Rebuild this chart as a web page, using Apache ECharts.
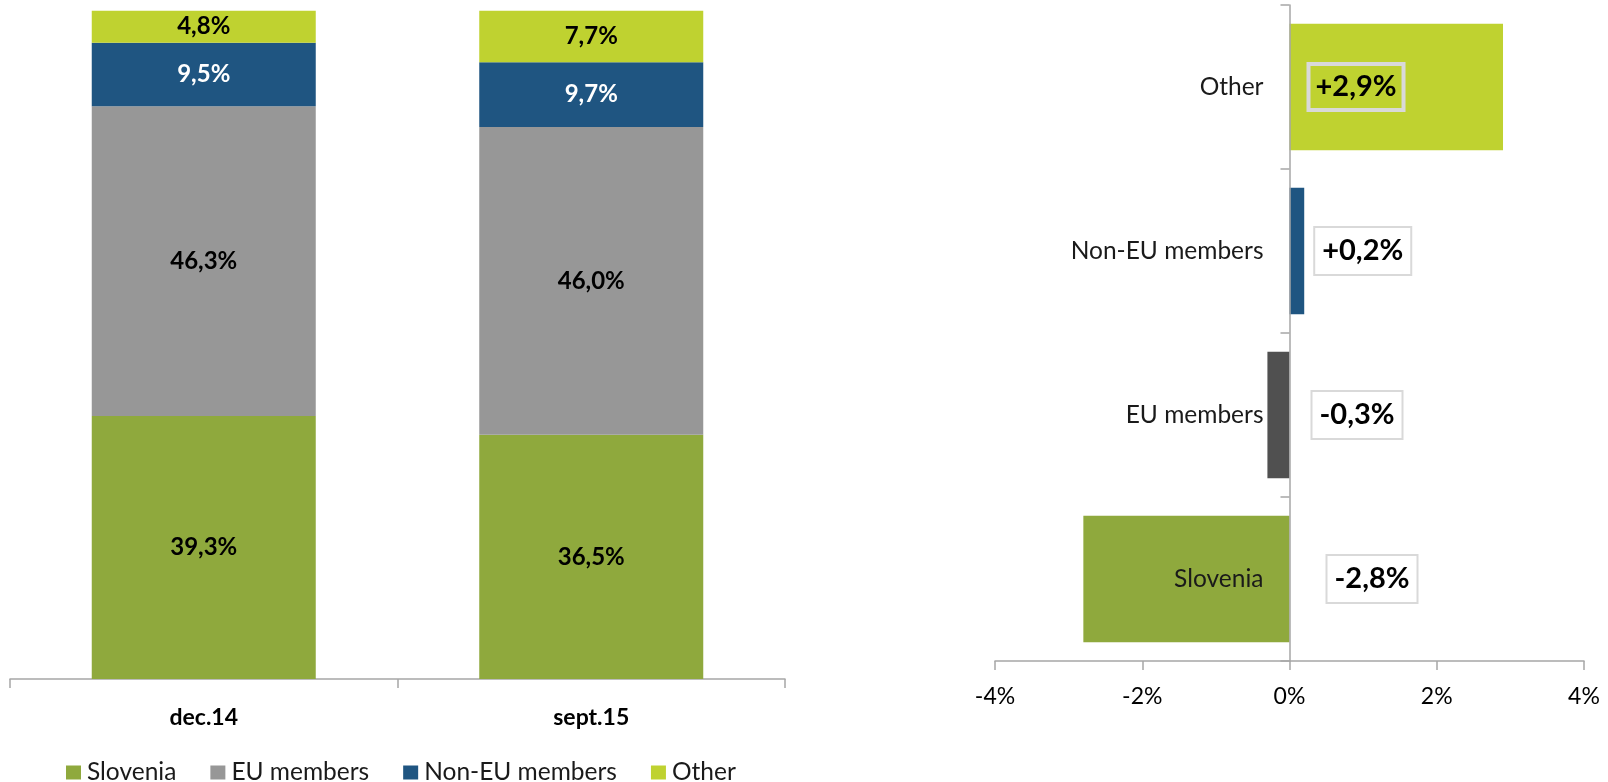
<!DOCTYPE html>
<html>
<head>
<meta charset="utf-8">
<script src="https://cdn.jsdelivr.net/npm/echarts@6/dist/echarts.min.js"></script>
<style>
html,body{margin:0;padding:0;background:#fff;}
#main{width:1608px;height:782px;}
</style>
</head>
<body>
<div id="main"></div>
<script>
// ---- data ----
const periods = ['dec.14', 'sept.15'];
const slovenia = [39.3, 36.5];
const euMembers = [46.3, 46.0];
const nonEuMembers = [9.5, 9.7];
const other = [4.8, 7.7];

const changeCategories = ['Slovenia', 'EU members', 'Non-EU members', 'Other'];
const changeValues = [-2.8, -0.3, 0.2, 2.9];
const changeTicks = [-4, -2, 0, 2, 4];

// ---- styles ----
const C_SLO = '#8FA93D', C_EU = '#979797', C_NONEU = '#1F5581', C_OTHER = '#BFD230', C_EU_CHG = '#505050';
const FONT = 'Lato, "Open Sans", sans-serif';
const changeColors = [C_SLO, C_EU_CHG, C_NONEU, C_OTHER];
const changeLabelPos = [
  {position: 'right', distance: 38, bg: '#fff'},
  {position: 'right', distance: 23, bg: '#fff'},
  {position: 'right', distance: 11, bg: '#fff'},
  {position: 'insideLeft', distance: 19, bg: 'transparent'}
];
const RIGHT_GRID_LEFT = 995, RIGHT_GRID_RIGHT = 24;
const rightGridWidth = 1608 - RIGHT_GRID_LEFT - RIGHT_GRID_RIGHT;

const fmt = v => v.toFixed(1).replace('.', ',') + '%';
const fmtSigned = v => (v > 0 ? '+' : '') + fmt(v);

function stackSeries(name, data, color, labelColor) {
  return {
    name, type: 'bar', stack: 'total', data,
    xAxisIndex: 0, yAxisIndex: 0,
    barWidth: 224,
    itemStyle: {color},
    label: {
      show: true, position: 'inside', color: labelColor,
      fontFamily: FONT, fontWeight: 'bold', fontSize: 24,
      formatter: p => fmt(p.value)
    }
  };
}

const chart = echarts.init(document.getElementById('main'), null, {renderer: 'canvas'});
chart.setOption({
  animation: false,
  backgroundColor: '#fff',
  textStyle: {fontFamily: FONT},
  legend: {
    data: ['Slovenia', 'EU members', 'Non-EU members', 'Other'],
    left: 66, top: 760, padding: 0,
    icon: 'rect', itemWidth: 15, itemHeight: 14, itemGap: 34,
    textStyle: {fontFamily: FONT, fontSize: 24.5, color: '#1a1a1a', padding: [0, 0, 0, 1]}
  },
  grid: [
    {left: 10, right: 823, top: 10, bottom: 103},
    {left: RIGHT_GRID_LEFT, right: RIGHT_GRID_RIGHT, top: 5, bottom: 121}
  ],
  xAxis: [
    {
      type: 'category', gridIndex: 0, data: periods,
      axisLine: {lineStyle: {color: '#a6a6a6', width: 1.5}},
      axisTick: {show: true, length: 9, lineStyle: {color: '#a6a6a6', width: 1.5}},
      axisLabel: {fontFamily: FONT, fontWeight: 'bold', fontSize: 23, color: '#000', margin: 27}
    },
    {
      type: 'value', gridIndex: 1, min: -4, max: 4, interval: 2,
      splitLine: {show: false},
      axisLine: {show: true, onZero: false, lineStyle: {color: '#a6a6a6', width: 1.5}},
      axisTick: {show: true, length: 9, lineStyle: {color: '#a6a6a6', width: 1.5}},
      axisLabel: {fontFamily: FONT, fontSize: 23, color: '#000', margin: 24,
        formatter: v => v + '%'}
    }
  ],
  yAxis: [
    {type: 'value', gridIndex: 0, min: 0, max: 100, show: false},
    {
      type: 'category', gridIndex: 1, data: changeCategories,
      offset: -rightGridWidth / 2, z: 10,
      axisLine: {show: true, onZero: false, lineStyle: {color: '#a6a6a6', width: 1.5}},
      axisTick: {show: true, length: 9, lineStyle: {color: '#a6a6a6', width: 1.5}},
      axisLabel: {fontFamily: FONT, fontSize: 24.5, color: '#1a1a1a', margin: 26}
    }
  ],
  series: [
    stackSeries('Slovenia', slovenia, C_SLO, '#000'),
    stackSeries('EU members', euMembers, C_EU, '#000'),
    stackSeries('Non-EU members', nonEuMembers, C_NONEU, '#fff'),
    stackSeries('Other', other, C_OTHER, '#000'),
    {
      name: 'Change', type: 'bar', xAxisIndex: 1, yAxisIndex: 1,
      barCategoryGap: '23%', z: 1,
      data: changeValues.map((v, i) => ({
        value: v,
        itemStyle: {color: changeColors[i]},
        label: {
          position: changeLabelPos[i].position,
          distance: changeLabelPos[i].distance,
          backgroundColor: changeLabelPos[i].bg
        }
      })),
      label: {
        show: true, color: '#000',
        fontFamily: FONT, fontWeight: 'bold', fontSize: 29,
        borderColor: '#d9d9d9', borderWidth: 2,
        padding: [8, 7, 6, 7], lineHeight: 32,
        formatter: p => fmtSigned(p.value)
      }
    }
  ]
});
</script>
</body>
</html>
